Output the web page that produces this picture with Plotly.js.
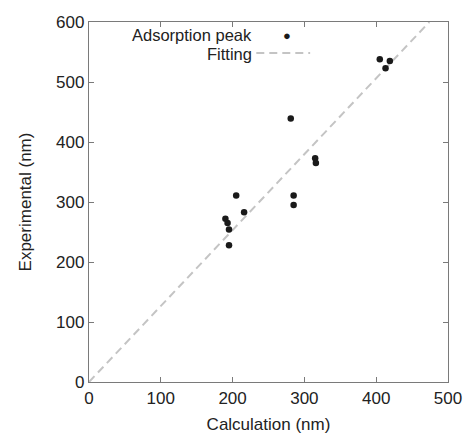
<!DOCTYPE html>
<html>
<head>
<meta charset="utf-8">
<script src="https://cdn.plot.ly/plotly-3.0.1.min.js"></script>
<style>html,body{margin:0;padding:0;background:#fff;}#chart{width:466px;height:435px;}</style>
</head>
<body>
<div id="chart"></div>
<script>
// Adsorption peak data (nm)
const calcX = [205, 216, 190, 193, 195, 195, 285, 285, 281, 315, 316, 405, 419, 413];
const expY  = [311, 283, 272, 265, 254, 228, 311, 295, 439, 373, 365, 538, 535, 523];
// Fitting line end points (nm)
const fitX = [0, 474];
const fitY = [0, 600];
const xTicks = [0, 100, 200, 300, 400, 500];
const yTicks = [0, 100, 200, 300, 400, 500, 600];
const seriesNames = ["Adsorption peak", "Fitting"];

const font = "Liberation Sans, Arial, sans-serif";
const axisCommon = {
  showline: true, mirror: "ticks", linecolor: "#7a7a7a", linewidth: 1.2,
  ticks: "inside", ticklen: 5, tickcolor: "#7a7a7a", tickwidth: 1,
  showgrid: false, zeroline: false,
  tickfont: {family: font, size: 17, color: "#222"}
};

const traces = [
  {x: fitX, y: fitY, mode: "lines", name: seriesNames[1], showlegend: false,
   line: {color: "#c4c4c4", width: 2, dash: "8px,5px"}},
  {x: calcX, y: expY, mode: "markers", name: seriesNames[0], showlegend: false,
   marker: {color: "#1a1a1a", size: 6.5}}
];

const layout = {
  width: 466, height: 435,
  margin: {l: 89, r: 18, t: 22, b: 53},
  paper_bgcolor: "#fff", plot_bgcolor: "#fff",
  showlegend: false,
  xaxis: Object.assign({}, axisCommon, {
    range: [0, 500], tickvals: xTicks, ticktext: xTicks.map(String),
    title: {text: "Calculation (nm)", font: {family: font, size: 17, color: "#222"}, standoff: 11}
  }),
  yaxis: Object.assign({}, axisCommon, {
    range: [0, 600], tickvals: yTicks, ticktext: yTicks.map(String),
    title: {text: "Experimental (nm)", font: {family: font, size: 17, color: "#222"}, standoff: 20}
  }),
  annotations: [
    {xref: "paper", yref: "paper", x: 0.458, y: 0.964, xanchor: "right", yanchor: "middle",
     borderpad: 0,
     text: seriesNames[0], showarrow: false, font: {family: font, size: 16.5, color: "#222"}},
    {xref: "paper", yref: "paper", x: 0.458, y: 0.911, xanchor: "right", yanchor: "middle",
     borderpad: 0,
     text: seriesNames[1], showarrow: false, font: {family: font, size: 16.5, color: "#222"}},
    {xref: "paper", yref: "paper", x: 0.5515, y: 0.962, xanchor: "center", yanchor: "middle",
     text: "●", showarrow: false, font: {family: font, size: 13, color: "#1a1a1a"}}
  ],
  shapes: [
    {type: "line", xref: "paper", yref: "paper", x0: 0.466, x1: 0.616, y0: 0.914, y1: 0.914,
     line: {color: "#c4c4c4", width: 2, dash: "8px,5px"}}
  ]
};

Plotly.newPlot("chart", traces, layout, {displayModeBar: false, staticPlot: true});
</script>
</body>
</html>
